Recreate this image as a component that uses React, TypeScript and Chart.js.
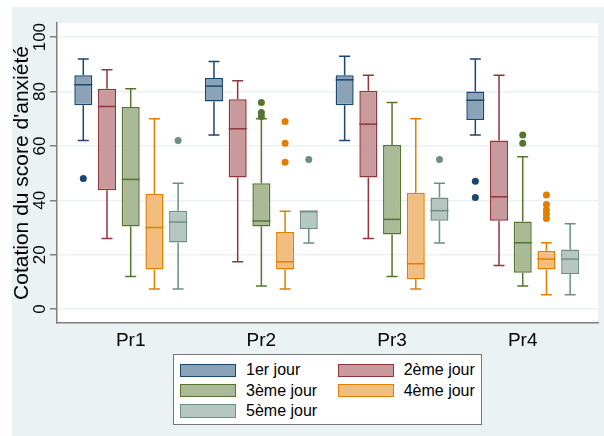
import React, { useEffect, useRef } from 'react';
import { Chart, registerables } from 'chart.js';
Chart.register(...registerables);

const FONT = "'Liberation Sans', Arial, Helvetica, sans-serif";

const categories = ['Pr1', 'Pr2', 'Pr3', 'Pr4'];
const seriesNames = ['1er jour', '2ème jour', '3ème jour', '4ème jour', '5ème jour'];
const yTicks = [0, 20, 40, 60, 80, 100];
const yTitle = "Cotation du score d'anxiété";

// rows: series (day), columns: categories (Pr1..Pr4)
const whiskerLow = [
  [62, 64, 62, 64],
  [26, 17.4, 26, 16],
  [12, 8.5, 12, 8.5],
  [7.4, 7.4, 7.4, 5.3],
  [7.4, 24.3, 24.3, 5.3],
];
const quartile1 = [
  [75, 76.3, 75, 69.5],
  [43.7, 48.4, 48.4, 32.5],
  [30.4, 30.4, 27.4, 13.4],
  [14.6, 14.6, 11, 14.6],
  [24.5, 29.5, 32.5, 12.9],
];
const medians = [
  [82.5, 82, 84.3, 76.8],
  [74.5, 66.3, 68, 41.3],
  [47.7, 32.4, 33, 24.4],
  [30, 17.4, 16.7, 18.4],
  [32, 36, 36.2, 18.4],
];
const quartile3 = [
  [86, 85, 86, 80],
  [81, 77.2, 80.3, 62],
  [74.3, 46.3, 60.3, 32.2],
  [42.3, 28.4, 42.8, 21.4],
  [36.2, 36, 41, 21.9],
];
const whiskerHigh = [
  [92, 91, 93, 92],
  [88, 84, 86, 86],
  [81, 70, 76, 56],
  [70, 36, 70, 24.4],
  [46.3, 36, 46.3, 31.4],
];
const outliers = [
  [[48], [], [], [47, 41]],
  [[], [], [], []],
  [[], [76, 72.3, 70.8], [], [64, 61]],
  [[], [69, 61, 54], [], [42, 38.5, 36.5, 35, 33.3]],
  [[62], [55], [55], []],
];

const strokeColors = ['#1a476f', '#90353b', '#55752f', '#e37e00', '#6e8e84'];
const fillColors = ['#8ca3b7', '#c89a9d', '#aaba97', '#f1be80', '#b6c6c1'];

const boxPlugin = {
  id: 'boxWhiskers',
  beforeDraw(chart: any) {
    const { ctx, chartArea: a } = chart;
    ctx.save();
    ctx.fillStyle = '#ffffff';
    ctx.fillRect(a.left, a.top, a.right - a.left, a.bottom - a.top);
    ctx.restore();
  },
  beforeDatasetsDraw(chart: any) {
    const { ctx } = chart;
    const ys = chart.scales.y;
    ctx.save();
    ctx.lineWidth = 1.5;
    chart.data.datasets.forEach((_: any, i: number) => {
      const meta = chart.getDatasetMeta(i);
      meta.data.forEach((el: any, j: number) => {
        const x = el.x;
        const cap = 5.5;
        ctx.strokeStyle = strokeColors[i];
        const segs = [
          [quartile3[i][j], whiskerHigh[i][j]],
          [quartile1[i][j], whiskerLow[i][j]],
        ];
        segs.forEach(([from, to]) => {
          if (Math.abs(from - to) < 0.01) return;
          const y1 = ys.getPixelForValue(from);
          const y2 = ys.getPixelForValue(to);
          ctx.beginPath();
          ctx.moveTo(x, y1);
          ctx.lineTo(x, y2);
          ctx.moveTo(x - cap, y2);
          ctx.lineTo(x + cap, y2);
          ctx.stroke();
        });
      });
    });
    ctx.restore();
  },
  afterDatasetsDraw(chart: any) {
    const { ctx } = chart;
    const ys = chart.scales.y;
    ctx.save();
    chart.data.datasets.forEach((_: any, i: number) => {
      const meta = chart.getDatasetMeta(i);
      meta.data.forEach((el: any, j: number) => {
        const x = el.x;
        const w = el.width;
        const ym = ys.getPixelForValue(medians[i][j]);
        ctx.strokeStyle = strokeColors[i];
        ctx.lineWidth = 1.5;
        ctx.beginPath();
        ctx.moveTo(x - w / 2, ym);
        ctx.lineTo(x + w / 2, ym);
        ctx.stroke();
        ctx.fillStyle = strokeColors[i];
        outliers[i][j].forEach((v) => {
          const yo = ys.getPixelForValue(v);
          ctx.beginPath();
          ctx.arc(x, yo, 3.5, 0, Math.PI * 2);
          ctx.fill();
        });
      });
    });
    ctx.restore();
  },
};

export default function App() {
  const ref = useRef<HTMLCanvasElement>(null);
  useEffect(() => {
    const datasets = seriesNames.map((name, i) => ({
      label: name,
      data: categories.map((_, j) => ({ x: j, y: [quartile1[i][j], quartile3[i][j]] })),
      backgroundColor: fillColors[i],
      borderColor: strokeColors[i],
      borderWidth: 1.5,
      borderSkipped: false,
    }));
    const chart = new Chart(ref.current as HTMLCanvasElement, {
      type: 'bar',
      data: { datasets } as any,
      plugins: [boxPlugin],
      options: {
        animation: false,
        responsive: false,
        events: [],
        layout: { padding: { left: 12, top: 23, right: 6, bottom: 82 } },
        plugins: { legend: { display: false }, tooltip: { enabled: false } },
        datasets: { bar: { categoryPercentage: 0.907, barPercentage: 0.76 } },
        scales: {
          x: {
            type: 'linear',
            min: -0.564,
            max: 3.576,
            offset: false,
            grid: { display: false, drawTicks: false, offset: false },
            border: { display: true, color: '#7f7f7f', width: 1.5 },
            afterBuildTicks: (s: any) => {
              s.ticks = categories.map((_, i) => ({ value: i }));
            },
            afterFit: (s: any) => {
              s.height = 31;
            },
            ticks: {
              padding: 6,
              color: '#000',
              font: { family: FONT, size: 19 },
              callback: (v: any) => categories[Math.round(Number(v))],
            },
          },
          y: {
            type: 'linear',
            min: -5.1,
            max: 105.2,
            afterBuildTicks: (s: any) => {
              s.ticks = yTicks.map((v) => ({ value: v }));
            },
            afterFit: (s: any) => {
              s.width = 45;
            },
            grid: {
              color: '#eaf2f3',
              lineWidth: 1.5,
              tickColor: '#7f7f7f',
              tickWidth: 1.5,
              tickLength: 7,
              drawTicks: true,
            },
            border: { display: true, color: '#7f7f7f', width: 1.5 },
            ticks: {
              minRotation: 90,
              maxRotation: 90,
              crossAlign: 'center',
              padding: -4.2,
              color: '#000',
              font: { family: FONT, size: 17 },
            },
            title: {
              display: true,
              text: yTitle,
              color: '#000',
              font: { family: FONT, size: 21, lineHeight: 1 },
              padding: 0,
            },
          },
        },
      } as any,
    });
    return () => chart.destroy();
  }, []);

  const legendItems = seriesNames.map((name, i) => {
    const row = Math.floor(i / 2);
    const col = i % 2;
    const swTop = 8.5 + row * 20.3;
    const swLeft = col === 0 ? 5.5 : 163.7;
    const txLeft = col === 0 ? 72 : 229.7;
    return (
      <React.Fragment key={name}>
        <div
          style={{
            position: 'absolute',
            left: swLeft,
            top: swTop,
            width: 56,
            height: 13.5,
            boxSizing: 'border-box',
            background: fillColors[i],
            border: `1.5px solid ${strokeColors[i]}`,
          }}
        />
        <div
          style={{
            position: 'absolute',
            left: txLeft,
            top: swTop + 6.75 - 10,
            height: 20,
            lineHeight: '20px',
            fontFamily: FONT,
            fontSize: 16,
            color: '#000',
            whiteSpace: 'nowrap',
          }}
        >
          {name}
        </div>
      </React.Fragment>
    );
  });

  return (
    <div style={{ position: 'fixed', left: 0, top: 0, width: 604, height: 436, background: '#fff', overflow: 'hidden' }}>
      <div style={{ position: 'absolute', left: 12, top: 7, right: 0, bottom: 0, background: '#eaf2f3' }} />
      <canvas ref={ref} width={604} height={436} style={{ position: 'absolute', left: 0, top: 0, width: 604, height: 436 }} />
      <div
        style={{
          position: 'absolute',
          left: 173,
          top: 354,
          width: 309,
          height: 71,
          boxSizing: 'border-box',
          background: '#fff',
          border: '1px solid #777',
        }}
      >
        {legendItems}
      </div>
    </div>
  );
}
